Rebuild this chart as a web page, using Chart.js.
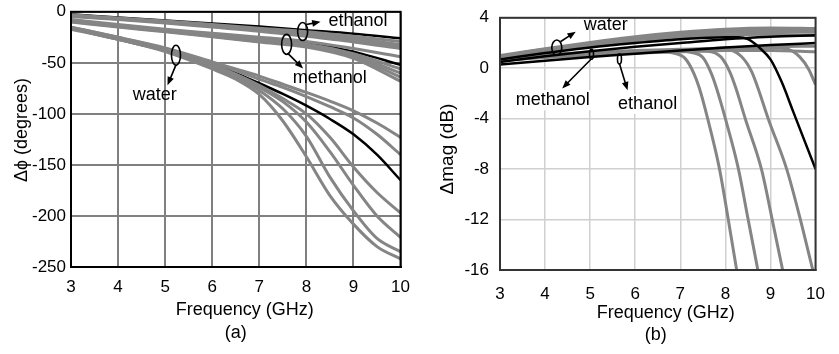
<!DOCTYPE html>
<html>
<head>
<meta charset="utf-8">
<script src="https://cdn.jsdelivr.net/npm/chart.js@4.4.0/dist/chart.umd.min.js"></script>
<style>
  body { margin: 0; background: #fff; width: 839px; height: 354px; overflow: hidden; position: relative; }
  #phaseChart { position: absolute; left: 0; top: 0; }
  #magChart { position: absolute; left: 420px; top: 0; }
</style>
</head>
<body>
<canvas id="phaseChart" width="420" height="354"></canvas>
<canvas id="magChart" width="419" height="354"></canvas>
<script>
// ---------- (a) phase difference, degrees ----------
var freqA = [3, 4, 5, 6, 7, 8, 9, 10];
var freqWater = [3, 4, 5, 6, 6.5, 7, 7.5, 8, 8.5, 9, 9.5, 10];

var ethanolPhaseRef = [-2.5, -5.5, -8.5, -11.5, -14.5, -18, -21.5, -26];
var ethanolPhase1 = [-3, -6, -9, -12.5, -16, -19.5, -24, -29];
var ethanolPhase2 = [-3.5, -6.5, -10, -13.5, -17, -21, -26, -32];
var ethanolPhase3 = [-4, -7, -10.5, -14, -18, -22.5, -28, -34];
var ethanolPhase4 = [-4.5, -7.5, -11, -15, -19, -24, -29.5, -36];

var methanolPhaseRef = [-8, -13, -17.5, -22, -26, -30.5, -39, -52];
var methanolPhase1 = [-7.5, -12.5, -17, -21, -25, -29, -36, -44];
var methanolPhase2 = [-8.5, -13.5, -18, -22.5, -27, -31.5, -41, -56];
var methanolPhase3 = [-9, -14, -18.5, -23, -28, -32.5, -42.5, -60];
var methanolPhase4 = [-9.5, -14.5, -19, -24, -29, -33.5, -44, -64];
var methanolPhase5 = [-10, -15, -19.5, -24.5, -29.5, -34.5, -45.5, -68];

var waterPhaseRef = [-16, -26, -37, -51, -60, -70, -80.5, -92, -105, -120, -140, -165];
var waterPhase1 = [-15, -25, -35.5, -49, -56, -63, -71, -79, -87.5, -97, -109, -123];
var waterPhase2 = [-15, -25, -36, -50, -57.5, -66, -74, -83, -93, -104, -120, -140];
var waterPhase3 = [-16, -26, -37, -52, -61, -72, -85, -100, -123, -152, -177, -197];
var waterPhase4 = [-16, -27, -38, -53, -62.5, -74, -88, -108, -137, -170, -200, -221];
var waterPhase5 = [-16, -27, -38, -54, -64, -77, -95, -122, -162, -195, -222, -235];
var waterPhase6 = [-17, -27, -39, -56, -66, -81, -107, -142, -180, -208, -230, -242];

var phaseTicks = [0, -50, -100, -150, -200, -250];

// ---------- (b) magnitude difference, dB ----------
var freqB = [3, 4, 5, 6, 7, 8, 9, 10];

var waterMagRefX = [3, 4, 5, 6, 7, 7.5, 8, 8.3, 8.5, 8.75, 9, 9.25, 9.5, 9.75, 10];
var waterMagRef = [0.7, 1.2, 1.65, 2.0, 2.3, 2.4, 2.45, 2.45, 2.3, 1.65, 0.7, -1.1, -3.4, -5.7, -8];
var methanolMagRef = [0.5, 0.95, 1.35, 1.7, 2.0, 2.3, 2.5, 2.62];
var ethanolMagRef = [0.3, 0.6, 0.9, 1.15, 1.4, 1.65, 1.85, 2.0];

var magUpper1 = [1.0, 1.55, 2.05, 2.5, 2.85, 3.1, 3.2, 3.15];
var magUpper2 = [0.95, 1.5, 1.95, 2.4, 2.75, 3.0, 3.05, 3.0];
var magUpper3 = [0.9, 1.4, 1.85, 2.25, 2.6, 2.85, 2.9, 2.85];
var magUpper4 = [0.85, 1.3, 1.75, 2.1, 2.45, 2.65, 2.7, 2.6];
var magLower1 = [0.7, 0.95, 1.15, 1.3, 1.45, 1.6, 1.7, 1.75];
var magLower2 = [0.6, 0.85, 1.05, 1.2, 1.3, 1.4, 1.4, 1.3];

var dropX1 = [3, 4, 5, 6, 6.5, 6.85, 7.1, 7.3, 7.42, 7.6, 7.87, 8.05, 8.25, 8.4];
var dropY1 = [0.75, 0.9, 1.05, 1.2, 1.3, 1.2, 0.8, -0.4, -1.55, -3.9, -8, -11.7, -16, -19.5];
var dropX2 = [3, 4, 5, 6, 7, 7.25, 7.5, 7.68, 7.8, 8.0, 8.29, 8.5, 8.72, 8.85];
var dropY2 = [0.8, 0.95, 1.1, 1.25, 1.35, 1.25, 0.85, -0.35, -1.55, -4.0, -8, -11.9, -16, -18.5];
var dropX3 = [3, 4, 5, 6, 7, 7.6, 7.9, 8.1, 8.23, 8.45, 8.8, 9.05, 9.27, 9.4];
var dropY3 = [0.85, 1.0, 1.15, 1.3, 1.4, 1.35, 0.9, -0.3, -1.55, -4.1, -8, -12.2, -16, -18.3];
var dropX4 = [3, 4, 5, 6, 7, 8, 8.35, 8.58, 8.72, 8.95, 9.36, 9.65, 9.94, 10.05];
var dropY4 = [0.9, 1.05, 1.2, 1.35, 1.45, 1.5, 0.95, -0.25, -1.55, -4.0, -8, -11.8, -16, -17.5];
var dropX5 = [3, 4, 5, 6, 7, 8, 9, 9.4, 9.65, 9.85, 10];
var dropY5 = [0.95, 1.1, 1.25, 1.4, 1.5, 1.6, 1.65, 1.5, 0.9, -0.1, -1.3];

var magTicks = [4, 0, -4, -8, -12, -16];

var FONT = "'Liberation Sans', Arial, sans-serif";
var GRAY = '#858585';

function series(xs, ys, color, width) {
  return {
    data: xs.map(function (x, i) { return { x: x, y: ys[i] }; }),
    borderColor: color,
    borderWidth: width,
    pointRadius: 0,
    fill: false,
    clip: 0,
    cubicInterpolationMode: 'monotone'
  };
}

// callouts: ellipse round a bundle, arrow, and the label (data units)
var phaseNotes = [
  { cx: 7.92, cy: -19.3, rx: 5, ry: 9, ax: 8.0, ay: -12.5, bx: 8.3, by: -9.7, text: 'ethanol', tx: 8.47, ty: -8.7, align: 'left' },
  { cx: 7.58, cy: -31.9, rx: 5, ry: 10, ax: 7.6, ay: -40.5, bx: 7.93, by: -55.5, text: 'methanol', tx: 7.71, ty: -64.7, align: 'left' },
  { cx: 5.23, cy: -42.5, rx: 4.5, ry: 10, ax: 5.23, ay: -52, bx: 5.05, by: -72, text: 'water', tx: 4.78, ty: -82, align: 'center' }
];
var magNotes = [
  { cx: 4.26, cy: 1.64, rx: 5, ry: 7.5, ax: 4.34, ay: 2.1, bx: 4.68, by: 2.9, text: 'water', tx: 4.86, ty: 3.39, align: 'left' },
  { cx: 5.03, cy: 1.11, rx: 2, ry: 5, ax: 5.03, ay: 0.75, bx: 4.38, by: -1.6, text: 'methanol', tx: 4.17, ty: -2.54, align: 'center', box: true },
  { cx: 5.65, cy: 0.73, rx: 2, ry: 5, ax: 5.65, ay: 0.35, bx: 5.83, by: -1.75, text: 'ethanol', tx: 5.62, ty: -2.84, align: 'left', box: true }
];

function arrow(ctx, x1, y1, x2, y2) {
  var ang = Math.atan2(y2 - y1, x2 - x1);
  var head = 9;
  ctx.beginPath();
  ctx.moveTo(x1, y1);
  ctx.lineTo(x2 - Math.cos(ang) * head * 0.8, y2 - Math.sin(ang) * head * 0.8);
  ctx.stroke();
  ctx.beginPath();
  ctx.moveTo(x2, y2);
  ctx.lineTo(x2 - head * Math.cos(ang - 0.38), y2 - head * Math.sin(ang - 0.38));
  ctx.lineTo(x2 - head * Math.cos(ang + 0.38), y2 - head * Math.sin(ang + 0.38));
  ctx.closePath();
  ctx.fill();
}

function panelPlugin(notes, frameColor, texts) {
  return {
    id: 'panelExtras',
    afterDatasetsDraw: function (chart) {
      var ctx = chart.ctx, a = chart.chartArea;
      var xs = chart.scales.x, ys = chart.scales.y;
      ctx.save();
      ctx.strokeStyle = frameColor;
      ctx.lineWidth = 2;
      ctx.strokeRect(a.left, a.top, a.right - a.left, a.bottom - a.top);

      ctx.font = '18px ' + FONT;
      ctx.textBaseline = 'middle';
      notes.forEach(function (n) {
        ctx.strokeStyle = '#000';
        ctx.fillStyle = '#000';
        ctx.lineWidth = 1.6;
        ctx.beginPath();
        ctx.ellipse(xs.getPixelForValue(n.cx), ys.getPixelForValue(n.cy), n.rx, n.ry, 0, 0, Math.PI * 2);
        ctx.stroke();
        arrow(ctx, xs.getPixelForValue(n.ax), ys.getPixelForValue(n.ay),
              xs.getPixelForValue(n.bx), ys.getPixelForValue(n.by));
        var tx = xs.getPixelForValue(n.tx), ty = ys.getPixelForValue(n.ty);
        ctx.textAlign = n.align;
        if (n.box) {
          var w = ctx.measureText(n.text).width;
          var left = n.align === 'center' ? tx - w / 2 : tx;
          ctx.fillStyle = '#fff';
          ctx.fillRect(left - 3, ty - 10, w + 6, 20);
          ctx.fillStyle = '#000';
        }
        ctx.fillText(n.text, tx, ty);
      });

      // axis titles and panel tag
      ctx.fillStyle = '#000';
      ctx.textAlign = 'center';
      ctx.font = '18px ' + FONT;
      ctx.fillText(texts.xTitle, (a.left + a.right) / 2 + texts.xShift, a.bottom + texts.xTitleGap);
      ctx.fillText(texts.tag, (a.left + a.right) / 2 + texts.tagShift, a.bottom + texts.tagGap);
      ctx.save();
      ctx.font = texts.yFont + 'px ' + FONT;
      ctx.translate(texts.yTitleX, texts.yTitleY);
      ctx.rotate(-Math.PI / 2);
      ctx.fillText(texts.yTitle, 0, 0);
      ctx.restore();
      ctx.restore();
    }
  };
}

function baseOptions(o) {
  return {
    responsive: false,
    animation: false,
    events: [],
    layout: { padding: o.padding },
    plugins: { legend: { display: false }, tooltip: { enabled: false } },
    scales: {
      x: {
        type: 'linear', min: 3, max: 10,
        afterFit: function (s) { s.height = o.xHeight; },
        ticks: { stepSize: 1, color: '#000', padding: o.xPad, font: { family: FONT, size: 17 } },
        grid: { color: o.gridColor, lineWidth: o.gridWidth, drawTicks: false },
        border: { color: o.frameColor, width: 2 }
      },
      y: {
        type: 'linear', min: o.yMin, max: o.yMax,
        afterFit: function (s) { s.width = o.yWidth; },
        afterBuildTicks: function (s) { s.ticks = o.yTicks.map(function (v) { return { value: v }; }); },
        ticks: { color: '#000', padding: o.yPad, font: { family: FONT, size: 17, lineHeight: 0.8 } },
        grid: { color: o.gridColor, lineWidth: o.gridWidth, drawTicks: false },
        border: { color: o.frameColor, width: 2 }
      }
    }
  };
}

// reference curves are listed last so the gray bundles sit over them
new Chart('phaseChart', {
  type: 'line',
  data: {
    datasets: [
      series(freqA, ethanolPhase1, GRAY, 3),
      series(freqA, ethanolPhase2, GRAY, 3),
      series(freqA, ethanolPhase3, GRAY, 3),
      series(freqA, ethanolPhase4, GRAY, 3),
      series(freqA, methanolPhase1, GRAY, 3),
      series(freqA, methanolPhase2, GRAY, 3),
      series(freqA, methanolPhase3, GRAY, 3),
      series(freqA, methanolPhase4, GRAY, 3),
      series(freqA, methanolPhase5, GRAY, 3),
      series(freqWater, waterPhase1, GRAY, 3),
      series(freqWater, waterPhase2, GRAY, 3),
      series(freqWater, waterPhase3, GRAY, 3),
      series(freqWater, waterPhase4, GRAY, 3),
      series(freqWater, waterPhase5, GRAY, 3),
      series(freqWater, waterPhase6, GRAY, 3),
      series(freqA, ethanolPhaseRef, '#000', 2.5),
      series(freqA, methanolPhaseRef, '#000', 2.5),
      series(freqWater, waterPhaseRef, '#000', 2.5)
    ]
  },
  options: baseOptions({
    padding: { top: 8, right: 19, left: 0, bottom: 0 },
    xHeight: 87, yWidth: 71, xPad: 10, yPad: 5,
    yMin: -250, yMax: 0, yTicks: phaseTicks,
    gridColor: '#808080', gridWidth: 2, frameColor: '#000'
  }),
  plugins: [panelPlugin(phaseNotes, '#000', {
    xTitle: 'Frequency (GHz)', xShift: 9, xTitleGap: 43,
    tag: '(a)', tagShift: 0, tagGap: 66,
    yTitle: 'Δϕ (degrees)', yFont: 18, yTitleX: 22, yTitleY: 130
  })]
});

new Chart('magChart', {
  type: 'line',
  data: {
    datasets: [
      series(waterMagRefX, waterMagRef, '#000', 2.5),
      series(freqB, methanolMagRef, '#000', 2.5),
      series(freqB, ethanolMagRef, '#000', 2.5),
      series(freqB, magUpper1, GRAY, 3),
      series(freqB, magUpper2, GRAY, 3),
      series(freqB, magUpper3, GRAY, 3),
      series(freqB, magUpper4, GRAY, 3),
      series(freqB, magLower1, GRAY, 3),
      series(freqB, magLower2, GRAY, 3),
      series(dropX1, dropY1, GRAY, 3),
      series(dropX2, dropY2, GRAY, 3),
      series(dropX3, dropY3, GRAY, 3),
      series(dropX4, dropY4, GRAY, 3),
      series(dropX5, dropY5, GRAY, 3)
    ]
  },
  options: baseOptions({
    padding: { top: 7, right: 11, left: 0, bottom: 0 },
    xHeight: 84, yWidth: 80, xPad: 14, yPad: 11,
    yMin: -16, yMax: 4, yTicks: magTicks,
    gridColor: '#d0d0d0', gridWidth: 1.5, frameColor: '#222'
  }),
  plugins: [panelPlugin(magNotes, '#333', {
    xTitle: 'Frequency (GHz)', xShift: 8, xTitleGap: 43,
    tag: '(b)', tagShift: -2, tagGap: 65,
    yTitle: 'Δmag (dB)', yFont: 19, yTitleX: 28, yTitleY: 149
  })]
});
</script>
</body>
</html>
